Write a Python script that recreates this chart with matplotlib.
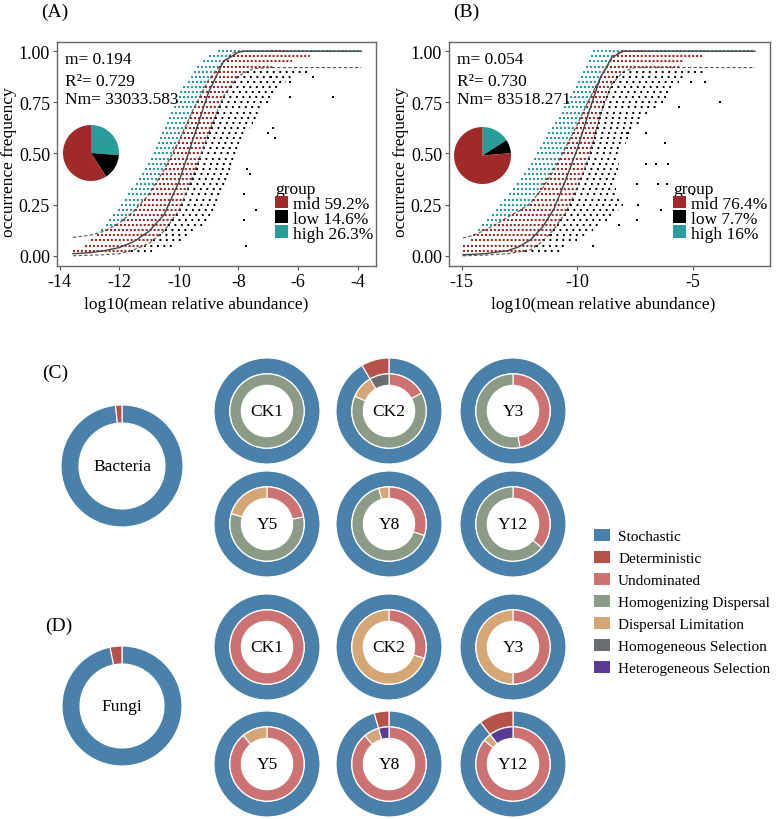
import numpy as np
import matplotlib
matplotlib.use('Agg')
import matplotlib.pyplot as plt
from matplotlib.patches import Patch

plt.rcParams['font.family'] = ['Liberation Serif', 'DejaVu Serif']

W, H = 778, 820

# ---------------- (A)/(B) neutral model data ----------------
occ_levels = [0.025, 0.05, 0.075, 0.1, 0.125, 0.15, 0.175, 0.2, 0.225, 0.25,
              0.275, 0.3, 0.325, 0.35, 0.375, 0.4, 0.425, 0.45, 0.475, 0.5,
              0.525, 0.55, 0.575, 0.6, 0.625, 0.65, 0.675, 0.7, 0.725, 0.75,
              0.775, 0.8, 0.825, 0.85, 0.875, 0.9, 0.925, 0.95, 0.975]

# per occurrence row: start of points, end of "high", end of "mid", end of "low"
a_left = [-13.55, -13.15, -12.95, -12.75, -12.6, -12.45, -12.35, -12.2, -12.05, -11.93,
          -11.8, -11.7, -11.6, -11.45, -11.35, -11.25, -11.15, -11.05, -10.95, -10.85,
          -10.78, -10.7, -10.62, -10.55, -10.47, -10.4, -10.32, -10.25, -10.17, -10.1,
          -10.0, -9.95, -9.85, -9.7, -9.6, -9.5, -9.4, -9.2, -9.0]
a_high_end = [-13.55, -13.15, -12.95, -12.75, -12.44, -12.12, -11.87, -11.67, -11.47, -11.31,
              -11.16, -11.0, -10.9, -10.79, -10.69, -10.58, -10.48, -10.39, -10.3, -10.21,
              -10.12, -10.04, -9.95, -9.87, -9.8, -9.72, -9.64, -9.56, -9.48, -9.39,
              -9.3, -9.21, -9.12, -9.04, -8.92, -8.78, -8.64, -8.5, -8.31]
a_mid_end = [-11.62, -11.17, -10.87, -10.67, -10.47, -10.35, -10.22, -10.1, -9.99, -9.92,
             -9.85, -9.78, -9.71, -9.64, -9.57, -9.5, -9.44, -9.38, -9.31, -9.25,
             -9.19, -9.13, -9.06, -9.0, -8.93, -8.86, -8.79, -8.72, -8.65, -8.58,
             -8.51, -8.4, -8.28, -8.15, -8.03, -7.7, -6.8, -6.2, -5.6]
a_low_end = [-10.9, -10.2, -9.9, -9.6, -9.4, -9.2, -9.0, -8.9, -8.8, -8.7,
             -8.6, -8.5, -8.45, -8.4, -8.3, -8.25, -8.2, -8.1, -8.05, -8.0,
             -7.9, -7.85, -7.8, -7.7, -7.6, -7.5, -7.4, -7.3, -7.2, -7.0,
             -6.9, -6.8, -6.6, -6.4, -6.2, -5.6, -6.8, -6.2, -5.6]
a_top_high_start = [-8.7, -6.4]
a_top_high_end = [-6.9, -3.87]
a_top_mid_start = [-6.9]
a_top_mid_end = [-6.4]
a_low_x = [-6.27, -4.83, -6.27, -6.84, -7.0, -6.77, -7.7, -7.6, -7.8, -7.4, -7.8, -7.75, -6.9, -5.5]
a_low_y = [0.85, 0.775, 0.775, 0.625, 0.6, 0.575, 0.425, 0.4, 0.3, 0.225, 0.175, 0.05, 0.875, 0.875]

a_fit_x = [-13.55, -13, -12.5, -12, -11.5, -11, -10.5, -10, -9.5, -9, -8.5, -8, -7.8, -3.87]
a_fit_y = [0.01, 0.015, 0.025, 0.04, 0.07, 0.12, 0.2, 0.36, 0.58, 0.8, 0.95, 0.995, 1.0, 1.0]
a_upr_x = [-13.55, -13, -12.5, -12, -11.5, -11, -10.5, -10, -9.5, -9, -8.5, -8.2, -7.9, -3.87]
a_upr_y = [0.09, 0.1, 0.12, 0.16, 0.22, 0.3, 0.42, 0.56, 0.72, 0.86, 0.95, 0.99, 1.0, 1.0]
a_lwr_x = [-13.55, -12.5, -12, -11.5, -11, -10.5, -10, -9.5, -9, -8.5, -8, -7.5, -7, -3.87]
a_lwr_y = [0.0, 0.005, 0.01, 0.03, 0.06, 0.12, 0.22, 0.4, 0.6, 0.78, 0.88, 0.915, 0.92, 0.92]

b_left = [-14.95, -14.95, -14.6, -14.5, -14.3, -14.1, -13.9, -13.7, -13.5, -13.35,
          -13.15, -12.95, -12.8, -12.6, -12.45, -12.3, -12.15, -12.0, -11.85, -11.75,
          -11.6, -11.5, -11.35, -11.25, -11.1, -10.95, -10.8, -10.65, -10.55, -10.45,
          -10.3, -10.2, -10.05, -9.95, -9.85, -9.73, -9.6, -9.5, -9.4]
b_high_end = [-14.95, -14.95, -14.6, -14.5, -14.11, -13.61, -13.22, -12.83, -12.44, -12.05,
              -11.9, -11.76, -11.62, -11.47, -11.33, -11.18, -11.04, -10.89, -10.75, -10.6,
              -10.49, -10.38, -10.28, -10.17, -10.06, -9.95, -9.84, -9.74, -9.63, -9.52,
              -9.42, -9.31, -9.21, -9.11, -9.0, -8.9, -8.76, -8.61, -8.44]
b_mid_end = [-12.25, -11.77, -11.47, -11.18, -11.03, -10.89, -10.74, -10.59, -10.45, -10.3,
             -10.22, -10.13, -10.05, -9.96, -9.88, -9.79, -9.71, -9.62, -9.54, -9.45,
             -9.39, -9.33, -9.28, -9.22, -9.16, -9.1, -9.04, -8.99, -8.93, -8.87,
             -8.76, -8.65, -8.54, -8.43, -8.32, -8.0, -5.5, -5.4, -4.5]
b_low_end = [-10.7, -10.5, -10.0, -9.6, -9.3, -9.0, -8.7, -8.4, -8.2, -8.0,
             -8.2, -8.3, -8.3, -8.3, -8.3, -8.3, -8.25, -8.2, -8.2, -8.1,
             -8.0, -7.9, -7.8, -7.7, -7.5, -7.3, -7.1, -6.9, -6.6, -6.3,
             -6.1, -5.9, -5.8, -5.6, -5.4, -4.5, -5.5, -5.4, -4.5]
b_top_high_start = [-9.3, -7.1]
b_top_high_end = [-8.1, -2.3]
b_top_mid_start = [-8.1]
b_top_mid_end = [-7.1]
b_low_x = [-7.86, -7.0, -7.0, -6.57, -6.06, -6.5, -6.1, -7.4, -7.35, -6.35, -8.2, -7.4,
           -9.3, -3.82, -5.6, -4.47, -5.05, -6.2, -5.0]
b_low_y = [0.6, 0.6, 0.45, 0.45, 0.45, 0.35, 0.35, 0.35, 0.25, 0.225, 0.15, 0.175,
           0.05, 0.75, 0.725, 0.85, 0.85, 0.55, 0.3]

b_fit_x = [-14.95, -14, -13, -12.5, -12, -11.5, -11, -10.5, -10, -9.5, -9, -8.5, -8, -2.3]
b_fit_y = [0.005, 0.01, 0.025, 0.045, 0.08, 0.14, 0.23, 0.37, 0.52, 0.7, 0.87, 0.97, 1.0, 1.0]
b_upr_x = [-14.95, -14.5, -14, -13.5, -13, -12.5, -12, -11.5, -11, -10.5, -10, -9.5, -9, -8.5, -8.15, -2.3]
b_upr_y = [0.087, 0.1, 0.125, 0.155, 0.19, 0.22, 0.26, 0.33, 0.42, 0.53, 0.64, 0.76, 0.87, 0.96, 1.0, 1.0]
b_lwr_x = [-14.95, -14, -13, -12.5, -12, -11.5, -11, -10.5, -10, -9.5, -9, -8.5, -8, -7.5, -2.3]
b_lwr_y = [0.0, 0.003, 0.01, 0.02, 0.03, 0.07, 0.13, 0.21, 0.33, 0.48, 0.69, 0.84, 0.9, 0.92, 0.92]

a_stats = ['m= 0.194', 'R²= 0.729', 'Nm= 33033.583']
b_stats = ['m= 0.054', 'R²= 0.730', 'Nm= 83518.271']
group_names = ['mid', 'low', 'high']
a_group_pct = [59.2, 14.6, 26.3]
b_group_pct = [76.4, 7.7, 16.0]
a_group_lbl = ['59.2%', '14.6%', '26.3%']
b_group_lbl = ['76.4%', '7.7%', '16%']

# ---------------- (C)/(D) null model data ----------------
treatments = ['CK1', 'CK2', 'Y3', 'Y5', 'Y8', 'Y12']
process_names = ['Stochastic', 'Deterministic', 'Undominated', 'Homogenizing Dispersal',
                 'Dispersal Limitation', 'Homogeneous Selection', 'Heterogeneous Selection']

bact_total = [98.3, 1.7]
bact_stochastic = [100, 91.5, 100, 100, 100, 100]
bact_deterministic = [0, 8.5, 0, 0, 0, 0]
bact_undominated = [0, 17, 47, 22, 30, 36]
bact_homog_disp = [100, 64.5, 53, 57.5, 65.5, 64]
bact_disp_lim = [0, 10, 0, 20.5, 4.5, 0]
bact_homog_sel = [0, 8.5, 0, 0, 0, 0]
bact_hetero_sel = [0, 0, 0, 0, 0, 0]

fungi_total = [96.8, 3.2]
fungi_stochastic = [100, 100, 100, 100, 95.5, 89.5]
fungi_deterministic = [0, 0, 0, 0, 4.5, 10.5]
fungi_undominated = [100, 30, 50, 89, 88.8, 86]
fungi_homog_disp = [0, 0, 0, 0, 0, 0]
fungi_disp_lim = [0, 70, 50, 11, 6.7, 3.5]
fungi_homog_sel = [0, 0, 0, 0, 0, 0]
fungi_hetero_sel = [0, 0, 0, 0, 4.5, 10.5]

group_colors = ['#a0292a', '#000000', '#2a9d9a']
process_colors = ['#4a81ab', '#b5534b', '#cc7272', '#8c9b86', '#d5a676', '#6a6e73', '#5a3a92']


def box(x0, y0, w, h):
    return [x0 / W, 1 - (y0 + h) / H, w / W, h / H]


fig = plt.figure(figsize=(W / 100, H / 100), dpi=100)


def draw_ncm(rect, xlim, xticks, xlab_pos, left, high_end, mid_end, low_end,
             top_hs, top_he, top_ms, top_me, lx, ly,
             fx, fy, ux, uy, wx, wy, stats, pct, pct_lbl, pie_rect):
    ax = fig.add_axes(rect)
    lev = np.array(occ_levels)
    left, high_end = np.array(left), np.array(high_end)
    mid_end, low_end = np.array(mid_end), np.array(low_end)
    dense = (0, (1.0, 0.9))
    sparse = (0, (0.9, 2.2))
    lw = 1.5
    m = high_end > left
    ax.hlines(lev[m], left[m], high_end[m], colors=group_colors[2], linewidth=lw, linestyles=[dense])
    m = mid_end > high_end
    ax.hlines(lev[m], high_end[m], mid_end[m], colors=group_colors[0], linewidth=lw, linestyles=[dense])
    m = low_end > mid_end
    ax.hlines(lev[m], mid_end[m], low_end[m], colors=group_colors[1], linewidth=lw, linestyles=[sparse])
    ax.hlines([1.0] * len(top_hs), top_hs, top_he, colors=group_colors[2], linewidth=lw, linestyles=[dense])
    ax.hlines([1.0] * len(top_ms), top_ms, top_me, colors=group_colors[0], linewidth=lw, linestyles=[dense])
    ax.scatter(lx, ly, s=2.5, marker='s', color='black', linewidths=0)

    ax.plot(fx, fy, color='#444444', lw=1.0)
    ax.plot(ux, uy, color='#555555', lw=0.8, linestyle=(0, (3, 2)))
    ax.plot(wx, wy, color='#555555', lw=0.8, linestyle=(0, (3, 2)))

    ax.set_xlim(*xlim)
    ax.set_ylim(-0.05, 1.045)
    ax.set_xticks(xticks)
    ax.set_xticklabels([str(t) for t in xticks])
    ax.set_yticks([0, 0.25, 0.5, 0.75, 1.0])
    ax.set_yticklabels(['0.00', '0.25', '0.50', '0.75', '1.00'])
    ax.tick_params(labelsize=13, length=3, color='#555555', pad=2)
    for s in ax.spines.values():
        s.set_color('#666666')
        s.set_linewidth(1.0)
    ax.set_xlabel('log10(mean relative abundance)', fontsize=12.5)
    ax.xaxis.set_label_coords(xlab_pos, -0.135)
    ax.set_ylabel('occurrence frequency', fontsize=12.5)
    ax.yaxis.set_label_coords(-0.125, 0.47)

    for t, yy in zip(stats, [0.925, 0.825, 0.745]):
        ax.text(0.025, yy, t, transform=ax.transAxes, fontsize=12.5, va='center')

    handles = [Patch(facecolor=c, edgecolor='none') for c in group_colors]
    labels = [f'{g} {p}' for g, p in zip(group_names, pct_lbl)]
    ax.legend(handles, labels, title='group', loc='lower right', bbox_to_anchor=(1.03, 0.055),
              frameon=False, fontsize=12.5, title_fontsize=12.5, handlelength=0.75, handleheight=0.75,
              handletextpad=0.3, labelspacing=-0.1, borderpad=0.2, alignment='left')

    pax = fig.add_axes(pie_rect)
    # order clockwise from top: high, low, mid
    pax.pie([pct[2], pct[1], pct[0]], colors=[group_colors[2], group_colors[1], group_colors[0]],
            startangle=90, counterclock=False, radius=1.0)
    pax.set_xlim(-1, 1)
    pax.set_ylim(-1, 1)
    pax.set_aspect('equal')
    pax.axis('off')


draw_ncm(box(57, 43, 319, 224), (-14.09, -3.38), [-14, -12, -10, -8, -6, -4], 0.436,
         a_left, a_high_end, a_mid_end, a_low_end,
         a_top_high_start, a_top_high_end, a_top_mid_start, a_top_mid_end, a_low_x, a_low_y,
         a_fit_x, a_fit_y, a_upr_x, a_upr_y, a_lwr_x, a_lwr_y,
         a_stats, a_group_pct, a_group_lbl, box(63, 126, 56, 56))
draw_ncm(box(449, 43, 321, 224), (-15.55, -1.65), [-15, -10, -5], 0.48,
         b_left, b_high_end, b_mid_end, b_low_end,
         b_top_high_start, b_top_high_end, b_top_mid_start, b_top_mid_end, b_low_x, b_low_y,
         b_fit_x, b_fit_y, b_upr_x, b_upr_y, b_lwr_x, b_lwr_y,
         b_stats, b_group_pct, b_group_lbl, box(454, 128, 57, 57))

for lbl, x, y in [('(A)', 55, 12), ('(B)', 466, 12), ('(C)', 55, 373), ('(D)', 59, 626)]:
    fig.text(x / W, 1 - y / H, lbl, fontsize=14, ha='center', va='center')


# ---------------- donuts ----------------
def donut(cx, cy, r, outer, inner, label, outer_w, inner_r=None, inner_w=None):
    ax = fig.add_axes(box(cx - r, cy - r, 2 * r, 2 * r))
    ov = [v for v in outer if v > 0]
    oc = [c for v, c in zip(outer, process_colors[:2]) if v > 0]
    ax.pie(ov, colors=oc, startangle=90, counterclock=False, radius=1.0,
           wedgeprops=dict(width=outer_w, edgecolor='white', linewidth=0.8))
    if inner is not None:
        iv = [v for v in inner if v > 0]
        ic = [c for v, c in zip(inner, process_colors[2:]) if v > 0]
        ax.pie(iv, colors=ic, startangle=90, counterclock=False, radius=inner_r,
               wedgeprops=dict(width=inner_w, edgecolor='white', linewidth=0.8))
    ax.text(0, 0, label, ha='center', va='center', fontsize=12.5)
    ax.set_xlim(-1, 1)
    ax.set_ylim(-1, 1)
    ax.set_aspect('equal')
    ax.axis('off')


donut(122, 467, 61, bact_total, None, 'Bacteria', 0.295)
donut(122, 707, 60, fungi_total, None, 'Fungi', 0.3)

col_x = [267, 389, 513]
bact_row_y = [412, 525]
fungi_row_y = [648, 765]
for i, name in enumerate(treatments):
    cx = col_x[i % 3]
    donut(cx, bact_row_y[i // 3], 53,
          [bact_stochastic[i], bact_deterministic[i]],
          [bact_undominated[i], bact_homog_disp[i], bact_disp_lim[i], bact_homog_sel[i], bact_hetero_sel[i]],
          name, 0.296, 0.70, 0.215)
    donut(cx, fungi_row_y[i // 3], 53,
          [fungi_stochastic[i], fungi_deterministic[i]],
          [fungi_undominated[i], fungi_homog_disp[i], fungi_disp_lim[i], fungi_homog_sel[i], fungi_hetero_sel[i]],
          name, 0.296, 0.70, 0.215)

handles = [Patch(facecolor=c, edgecolor='none') for c in process_colors]
fig.legend(handles, process_names, loc='upper left', bbox_to_anchor=(586 / W, 1 - 522 / H),
           frameon=False, fontsize=11, handlelength=1.1, handleheight=0.85,
           handletextpad=0.5, labelspacing=0.5, borderpad=0.0)

fig.savefig('out.png', dpi=100)
